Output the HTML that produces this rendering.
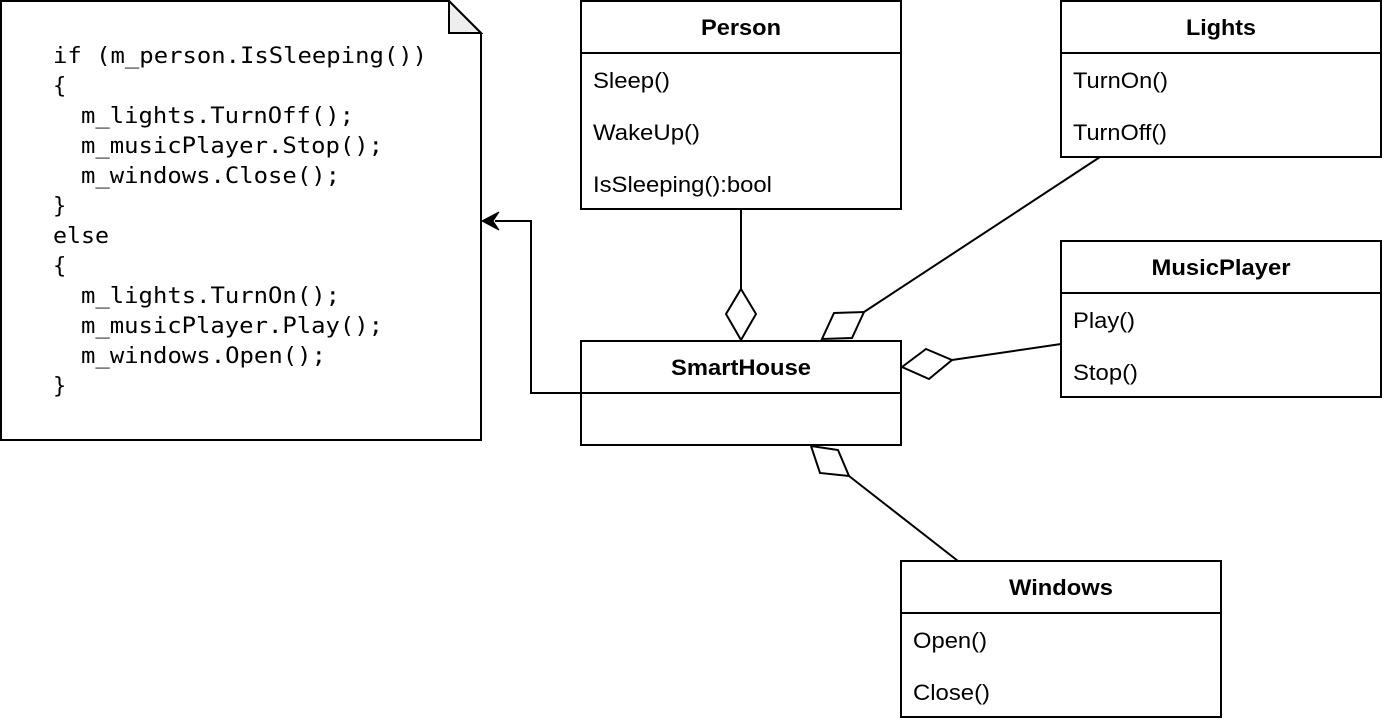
<!DOCTYPE html>
<html><head><meta charset="utf-8"><style>
html,body{margin:0;padding:0;background:#fff;width:1382px;height:724px;overflow:hidden}
svg{display:block}
.t{font-family:"Liberation Sans",Arial,sans-serif;font-size:22px;fill:#000}
.b{font-weight:bold;text-anchor:middle}
.m{font-family:"DejaVu Sans Mono","Liberation Mono",monospace;font-size:22px;fill:#000;white-space:pre}
</style></head><body>
<svg width="1382" height="724" viewBox="0 0 1382 724" xmlns="http://www.w3.org/2000/svg">
<g fill="#fff" stroke="#000" stroke-width="2">
<path d="M1 1 H449 L481 33 V440 H1 Z"/>
<path d="M449 1 V33 H481 Z" fill="#eee"/>
<rect x="581" y="1" width="320" height="208"/><line x1="581" y1="53" x2="901" y2="53"/>
<rect x="1061" y="1" width="320" height="156"/><line x1="1061" y1="53" x2="1381" y2="53"/>
<rect x="1061" y="241" width="320" height="156"/><line x1="1061" y1="293" x2="1381" y2="293"/>
<rect x="581" y="341" width="320" height="104"/><line x1="581" y1="393" x2="901" y2="393"/>
<rect x="901" y="561" width="320" height="156"/><line x1="901" y1="613" x2="1221" y2="613"/>
<polyline points="581,393 531,393 531,221 495,221" fill="none"/>
<line x1="741" y1="209" x2="741" y2="289"/>
<polygon points="741,289 756,314 741,340 726,314"/>
<line x1="864" y1="312" x2="1100" y2="157"/>
<polygon points="864,312 852,338 822,339 834,313"/>
<line x1="952" y1="360" x2="1061" y2="344"/>
<polygon points="902,367 926,349 952,360 929,379"/>
<line x1="849" y1="476" x2="958" y2="561"/>
<polygon points="811,446 838,450 849,476 820,473"/>
</g>
<polygon points="482,221 499,212 493,221 499,230" fill="#000" stroke="#000" stroke-width="1"/>
<g class="m">
<text x="53" y="63" textLength="374" lengthAdjust="spacingAndGlyphs">if (m_person.IsSleeping())</text>
<text x="53" y="93">{</text>
<text x="81" y="123" textLength="273" lengthAdjust="spacingAndGlyphs">m_lights.TurnOff();</text>
<text x="81" y="153" textLength="302" lengthAdjust="spacingAndGlyphs">m_musicPlayer.Stop();</text>
<text x="81" y="183" textLength="259" lengthAdjust="spacingAndGlyphs">m_windows.Close();</text>
<text x="53" y="213">}</text>
<text x="53" y="243" textLength="56" lengthAdjust="spacingAndGlyphs">else</text>
<text x="53" y="273">{</text>
<text x="81" y="303" textLength="259" lengthAdjust="spacingAndGlyphs">m_lights.TurnOn();</text>
<text x="81" y="333" textLength="302" lengthAdjust="spacingAndGlyphs">m_musicPlayer.Play();</text>
<text x="81" y="363" textLength="245" lengthAdjust="spacingAndGlyphs">m_windows.Open();</text>
<text x="53" y="393">}</text>
</g>
<text class="t b" x="741" y="35" textLength="80" lengthAdjust="spacingAndGlyphs">Person</text>
<text class="t" x="593" y="88" textLength="77" lengthAdjust="spacingAndGlyphs">Sleep()</text>
<text class="t" x="593" y="140" textLength="107" lengthAdjust="spacingAndGlyphs">WakeUp()</text>
<text class="t" x="593" y="192" textLength="179" lengthAdjust="spacingAndGlyphs">IsSleeping():bool</text>
<text class="t b" x="1221" y="35" textLength="70" lengthAdjust="spacingAndGlyphs">Lights</text>
<text class="t" x="1073" y="88" textLength="95" lengthAdjust="spacingAndGlyphs">TurnOn()</text>
<text class="t" x="1073" y="140" textLength="94" lengthAdjust="spacingAndGlyphs">TurnOff()</text>
<text class="t b" x="1221" y="275" textLength="139" lengthAdjust="spacingAndGlyphs">MusicPlayer</text>
<text class="t" x="1073" y="328" textLength="62" lengthAdjust="spacingAndGlyphs">Play()</text>
<text class="t" x="1073" y="380" textLength="65" lengthAdjust="spacingAndGlyphs">Stop()</text>
<text class="t b" x="741" y="375" textLength="140" lengthAdjust="spacingAndGlyphs">SmartHouse</text>
<text class="t b" x="1061" y="595" textLength="104" lengthAdjust="spacingAndGlyphs">Windows</text>
<text class="t" x="913" y="648" textLength="74" lengthAdjust="spacingAndGlyphs">Open()</text>
<text class="t" x="913" y="700" textLength="77" lengthAdjust="spacingAndGlyphs">Close()</text>
</svg>
</body></html>
